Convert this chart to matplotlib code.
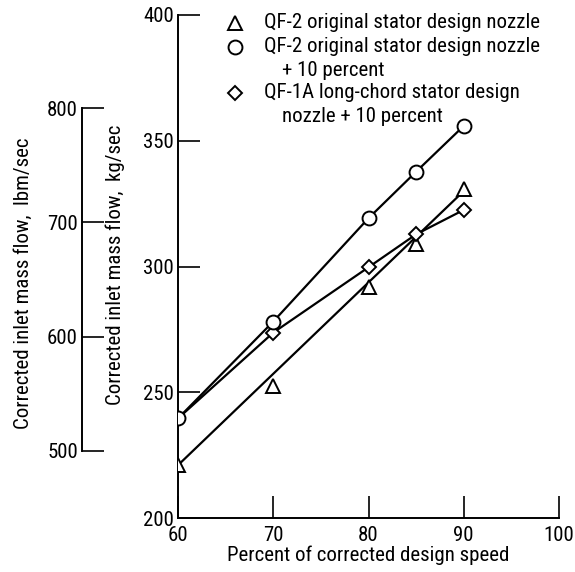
import matplotlib.pyplot as plt

# data
speed = [60, 70, 80, 85, 90]
flow_orig = [221, 252.5, 292, 309, 331]          # triangles, kg/sec
flow_orig10 = [239.6, 278.1, 319.2, 337.7, 355.9]  # circles
flow_long10 = [239.6, 273.7, 299.7, 312.8, 322.5]  # diamonds
fit_orig_x = [60, 90]
fit_orig_y = [221, 330]

KG_TO_LBM = 2.2046

plt.rcParams['font.family'] = ['Roboto Condensed', 'DejaVu Sans']
fs = 15

fig = plt.figure(figsize=(5.75, 5.72), dpi=100)
W, H = 575, 572
ax = fig.add_axes([178 / W, 1 - 518 / H, (559 - 178) / W, (518 - 15) / H])

# faired curves
ax.plot(fit_orig_x, fit_orig_y, '-k', lw=1.6)
ax.plot(speed, flow_orig10, '-k', lw=1.6)
ax.plot(speed, flow_long10, '-k', lw=1.6)

# symbols
mk = dict(ls='none', mfc='white', mec='black', mew=1.4, zorder=3)
ax.plot(speed, flow_orig, marker='^', ms=10, **mk)
ax.plot(speed, flow_long10, marker='D', ms=7.5, **mk)
ax.plot(speed, flow_orig10, marker='o', ms=10, **mk)

ax.set_xlim(60, 100)
ax.set_ylim(200, 400)
ax.set_xticks([60, 70, 80, 90, 100])
ax.set_yticks([200, 250, 300, 350, 400])
for s in ['top', 'right']:
    ax.spines[s].set_visible(False)
for s in ['left', 'bottom']:
    ax.spines[s].set_linewidth(1.4)
ax.tick_params(direction='in', length=16, width=1.2, labelsize=fs)
ax.tick_params(axis='x', pad=6)
ax.tick_params(axis='y', pad=3)
ax.set_xlabel('Percent of corrected design speed', fontsize=fs, labelpad=0)

# secondary lbm/sec scale
ax2 = ax.twinx()
ax2.set_ylim(200 * KG_TO_LBM, 400 * KG_TO_LBM)
ax2.yaxis.set_ticks_position('left')
ax2.yaxis.set_label_position('left')
for s in ['top', 'right', 'bottom']:
    ax2.spines[s].set_visible(False)
ax2.spines['left'].set_position(('axes', (82 - 178) / (559 - 178)))
ax2.spines['left'].set_bounds(500, 800)
ax2.spines['left'].set_linewidth(1.4)
ax2.set_yticks([500, 600, 700, 800])
ax2.tick_params(direction='in', length=16, width=1.2, labelsize=fs, pad=3)

fig.text(23 / W, 1 - 283 / H, 'Corrected inlet mass flow,  lbm/sec',
         rotation=90, ha='center', va='center', fontsize=fs)
fig.text(115 / W, 1 - 265 / H, 'Corrected inlet mass flow,  kg/sec',
         rotation=90, ha='center', va='center', fontsize=fs)

# legend drawn by hand
rows = [('^', 10, 23, 'QF-2 original stator design nozzle'),
        ('o', 10, 47, 'QF-2 original stator design nozzle'),
        ('D', 7.5, 93, 'QF-1A long-chord stator design')]
for m, size, py, txt in rows:
    fig.lines.append(plt.Line2D([235 / W], [1 - py / H], marker=m, ms=size,
                                mfc='white', mec='black', mew=1.4,
                                transform=fig.transFigure))
    fig.text(264 / W, 1 - py / H, txt, va='center', fontsize=fs)
fig.text(282 / W, 1 - 70 / H, '+ 10 percent', va='center', fontsize=fs)
fig.text(282 / W, 1 - 116 / H, 'nozzle + 10 percent', va='center', fontsize=fs)

fig.savefig('out.png', dpi=100)
